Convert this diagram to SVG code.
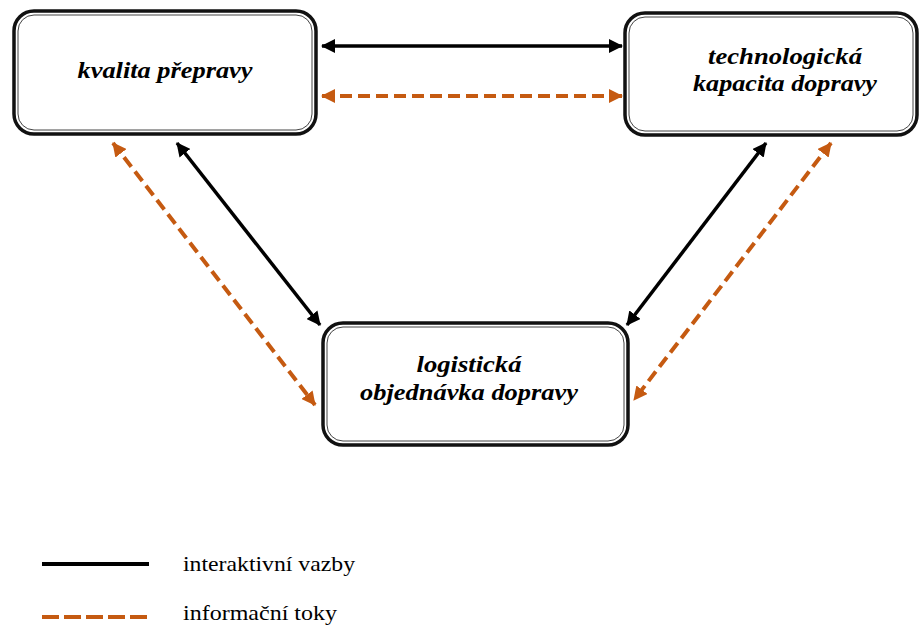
<svg xmlns="http://www.w3.org/2000/svg" width="920" height="628" viewBox="0 0 920 628">
<style>
.outer{fill:#fff;stroke:#111;stroke-width:3.5}
.inner{fill:none;stroke:#444;stroke-width:1}
.lbl{font-family:'Liberation Serif','Times New Roman','DejaVu Serif',serif;font-weight:bold;font-style:italic;font-size:24px;fill:#000;text-anchor:middle}
.leg{font-family:'Liberation Serif','Times New Roman','DejaVu Serif',serif;font-size:22px;fill:#000}
.blk{stroke:#000;stroke-width:3.5;fill:none}
.org{stroke:#c55a11;stroke-width:4;fill:none;stroke-dasharray:12 6}
</style>
<defs>
<marker id="ab" viewBox="0 0 14 14" refX="13" refY="7" markerWidth="14" markerHeight="14" markerUnits="userSpaceOnUse" orient="auto-start-reverse">
<path d="M0,0 L14,7 L0,14 Z" fill="#000"/>
</marker>
<marker id="ao" viewBox="0 0 14 14" refX="13" refY="7" markerWidth="14" markerHeight="14" markerUnits="userSpaceOnUse" orient="auto-start-reverse">
<path d="M0,0 L14,7 L0,14 Z" fill="#c55a11"/>
</marker>
</defs>
<rect width="920" height="628" fill="#fff"/>
<g id="kvalita">
<rect class="outer" x="14" y="11" width="302" height="123" rx="20"/>
<rect class="inner" x="18" y="15" width="294" height="115" rx="16"/>
<text class="lbl" x="165" y="78" textLength="175" lengthAdjust="spacingAndGlyphs">kvalita přepravy</text>
</g>
<g id="technologicka">
<rect class="outer" x="625" y="13" width="292" height="122" rx="20"/>
<rect class="inner" x="629" y="17" width="284" height="114" rx="16"/>
<text class="lbl" x="785" y="64" textLength="154" lengthAdjust="spacingAndGlyphs">technologická</text>
<text class="lbl" x="785" y="91" textLength="184" lengthAdjust="spacingAndGlyphs">kapacita dopravy</text>
</g>
<g id="logisticka">
<rect class="outer" x="323" y="323" width="305" height="122" rx="20"/>
<rect class="inner" x="327" y="327" width="297" height="114" rx="16"/>
<text class="lbl" x="469" y="372" textLength="105" lengthAdjust="spacingAndGlyphs">logistická</text>
<text class="lbl" x="469" y="400" textLength="218" lengthAdjust="spacingAndGlyphs">objednávka dopravy</text>
</g>
<g id="connectors">
<line class="blk" x1="322" y1="46" x2="622" y2="46" marker-start="url(#ab)" marker-end="url(#ab)"/>
<line class="org" x1="322" y1="96" x2="622" y2="96" marker-start="url(#ao)" marker-end="url(#ao)"/>
<line class="blk" x1="177" y1="143" x2="320" y2="325" marker-start="url(#ab)" marker-end="url(#ab)"/>
<line class="org" x1="113" y1="143" x2="315" y2="405" marker-start="url(#ao)" marker-end="url(#ao)"/>
<line class="blk" x1="766" y1="143" x2="627" y2="325" marker-start="url(#ab)" marker-end="url(#ab)"/>
<line class="org" x1="831" y1="143" x2="634" y2="400" marker-start="url(#ao)" marker-end="url(#ao)"/>
</g>
<g id="legend">
<line x1="42" y1="564" x2="149" y2="564" stroke="#000" stroke-width="4"/>
<line x1="42" y1="617" x2="149" y2="617" stroke="#c55a11" stroke-width="4" stroke-dasharray="17 5"/>
<text class="leg" x="183" y="571" textLength="172" lengthAdjust="spacingAndGlyphs">interaktivní vazby</text>
<text class="leg" x="183" y="620" textLength="154" lengthAdjust="spacingAndGlyphs">informační toky</text>
</g>
</svg>
